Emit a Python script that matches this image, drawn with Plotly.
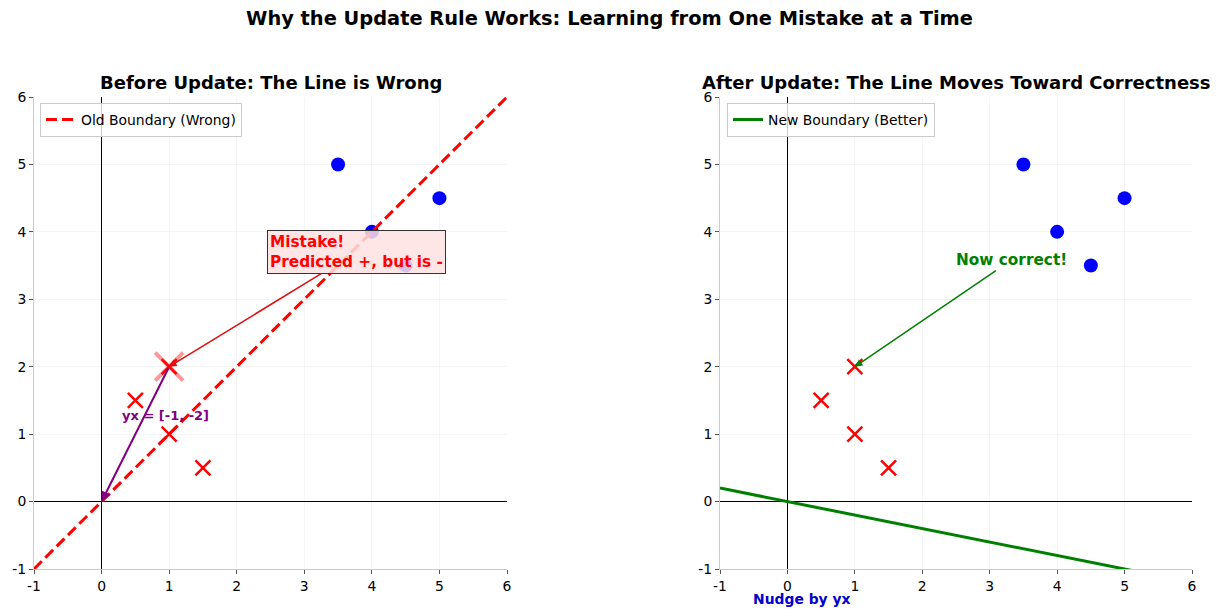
import plotly.graph_objects as go

# Data
pos_x = [3.5, 4, 5, 4.5]
pos_y = [5, 4, 4.5, 3.5]
neg_x = [0.5, 1, 1.5, 1]
neg_y = [1.5, 1, 0.5, 2]
mistake_x = [1]
mistake_y = [2]
boundary_x = [-1, 6]
old_slope = 1.0
new_slope = -0.2
nudge = [-1, -2]
ticks = [-1, 0, 1, 2, 3, 4, 5, 6]

# the page body keeps its 8px margin, so the figure is drawn 8px in and 8px smaller
OFF = 8
W, H = 1219 - OFF, 616 - OFF
FONT = "DejaVu Sans"


def _fx(px):
    return (px - OFF) / W


def _fy(py):
    return 1 - (py - OFF) / H


def _axis(domain, anchor):
    return dict(
        domain=domain,
        anchor=anchor,
        range=[-1, 6],
        tickvals=ticks,
        ticktext=[str(t) for t in ticks],
        automargin=False,
        showgrid=True,
        gridcolor="rgba(0,0,0,0.04)",
        zeroline=True,
        zerolinecolor="black",
        zerolinewidth=0.8,
        showline=True,
        linecolor="#cccccc",
        linewidth=1,
        ticks="outside",
        ticklen=4,
        tickcolor="#555555",
        tickfont=dict(size=13.9, color="black"),
    )


def _points(fig, xa, ya):
    fig.add_trace(go.Scatter(
        x=pos_x, y=pos_y, mode="markers", xaxis=xa, yaxis=ya, showlegend=False,
        marker=dict(symbol="circle", size=14, color="blue"),
    ))
    fig.add_trace(go.Scatter(
        x=neg_x, y=neg_y, mode="markers", xaxis=xa, yaxis=ya, showlegend=False,
        marker=dict(symbol="x-thin", size=15, line=dict(color="red", width=2.5)),
    ))


fig = go.Figure()

# Left panel: before update
_points(fig, "x", "y")
fig.add_trace(go.Scatter(
    x=mistake_x, y=mistake_y, mode="markers", xaxis="x", yaxis="y", showlegend=False,
    marker=dict(symbol="x-thin", size=28, opacity=0.4, line=dict(color="red", width=4)),
))
fig.add_trace(go.Scatter(
    x=boundary_x, y=[old_slope * v for v in boundary_x], mode="lines",
    xaxis="x", yaxis="y", name="Old Boundary (Wrong)", legend="legend",
    line=dict(color="red", width=3, dash="11px,5px"),
))

# Right panel: after update
_points(fig, "x2", "y2")
fig.add_trace(go.Scatter(
    x=boundary_x, y=[new_slope * v for v in boundary_x], mode="lines",
    xaxis="x2", yaxis="y2", name="New Boundary (Better)", legend="legend2",
    line=dict(color="green", width=3),
))

annotations = [
    dict(text="<b>Why the Update Rule Works: Learning from One Mistake at a Time</b>",
         x=_fx(609.5), y=_fy(18), xref="paper", yref="paper", showarrow=False,
         font=dict(size=19.4, color="black"), xanchor="center", yanchor="middle"),
    dict(text="<b>Before Update: The Line is Wrong</b>",
         x=_fx(270.5), y=_fy(82), xref="paper", yref="paper", showarrow=False,
         font=dict(size=18, color="black"), xanchor="center", yanchor="middle"),
    dict(text="<b>After Update: The Line Moves Toward Correctness</b>",
         x=_fx(956), y=_fy(82), xref="paper", yref="paper", showarrow=False,
         font=dict(size=18, color="black"), xanchor="center", yanchor="middle"),
    # mistake callout
    dict(text="<b>Mistake!<br>Predicted +, but is -</b>", align="left",
         x=mistake_x[0], y=mistake_y[0], xref="x", yref="y",
         ax=3.77, ay=3.70, axref="x", ayref="y",
         showarrow=True, arrowhead=2, arrowsize=1, arrowwidth=1.5, arrowcolor="#e01010",
         font=dict(size=15.3, color="red"),
         bgcolor="rgba(255,226,226,0.85)", bordercolor="#333333", borderwidth=1, borderpad=2),
    # yx vector
    dict(text="", x=0, y=0, xref="x", yref="y",
         ax=mistake_x[0], ay=mistake_y[0], axref="x", ayref="y",
         showarrow=True, arrowhead=2, arrowsize=1, arrowwidth=2, arrowcolor="purple"),
    dict(text=f"<b>yx = [{nudge[0]}, {nudge[1]}]</b>", x=0.94, y=1.27, xref="x", yref="y",
         showarrow=False, font=dict(size=13, color="purple")),
    # right panel callouts
    dict(text="<b>Now correct!</b>", x=mistake_x[0], y=mistake_y[0], xref="x2", yref="y2",
         ax=3.32, ay=3.58, axref="x2", ayref="y2",
         showarrow=True, arrowhead=2, arrowsize=1, arrowwidth=1.5, arrowcolor="green",
         font=dict(size=15.3, color="green")),
    dict(text="<b>Nudge by yx</b>", x=_fx(801.5), y=_fy(599), xref="paper", yref="paper",
         xanchor="center", yanchor="middle",
         showarrow=False, font=dict(size=13.9, color="mediumblue")),
]

legend_style = dict(
    xanchor="left", yanchor="top", bgcolor="rgba(255,255,255,0.8)",
    bordercolor="#cccccc", borderwidth=1, itemwidth=30,
    font=dict(size=13.9, color="black"),
)

fig.update_layout(
    width=W,
    height=H,
    margin=dict(l=0, r=0, t=0, b=0, autoexpand=False),
    paper_bgcolor="white",
    plot_bgcolor="white",
    font=dict(family=FONT, color="black"),
    xaxis=_axis([_fx(34), _fx(507)], "y"),
    yaxis=_axis([_fy(569), _fy(97)], "x"),
    xaxis2=_axis([_fx(720), _fx(1192)], "y2"),
    yaxis2=_axis([_fy(569), _fy(97)], "x2"),
    legend=dict(x=_fx(40), y=_fy(103), **legend_style),
    legend2=dict(x=_fx(727), y=_fy(103), **legend_style),
    annotations=annotations,
)

fig.write_html("out.html")
